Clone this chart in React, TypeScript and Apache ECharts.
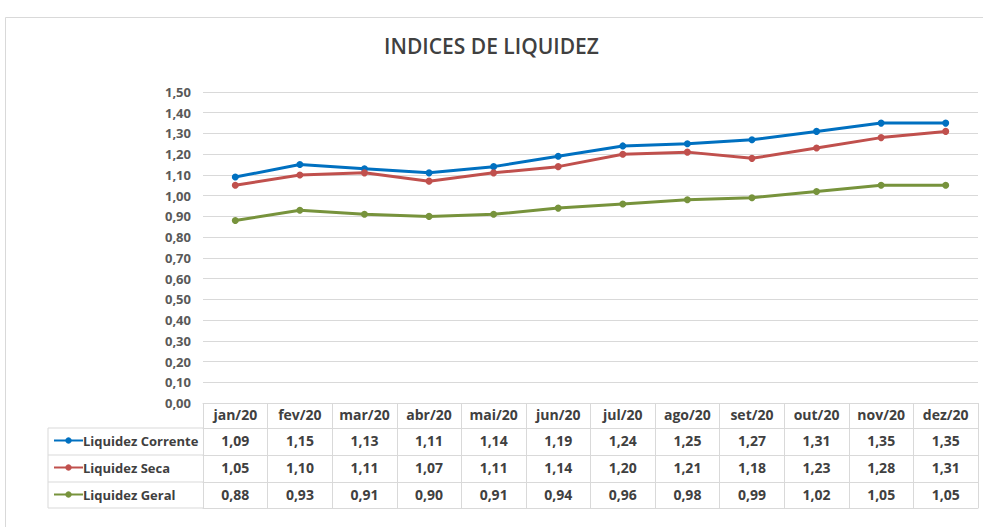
import React, { useEffect, useRef } from "react";
import * as echarts from "echarts";

const months = ["jan/20", "fev/20", "mar/20", "abr/20", "mai/20", "jun/20", "jul/20", "ago/20", "set/20", "out/20", "nov/20", "dez/20"];
const seriesNames = ["Liquidez Corrente", "Liquidez Seca", "Liquidez Geral"];
const corrente = [1.09, 1.15, 1.13, 1.11, 1.14, 1.19, 1.24, 1.25, 1.27, 1.31, 1.35, 1.35];
const seca = [1.05, 1.10, 1.11, 1.07, 1.11, 1.14, 1.20, 1.21, 1.18, 1.23, 1.28, 1.31];
const geral = [0.88, 0.93, 0.91, 0.90, 0.91, 0.94, 0.96, 0.98, 0.99, 1.02, 1.05, 1.05];
const colors = ["#0070C0", "#C0504D", "#77933C"];

const fmt = (v: number) => v.toFixed(2).replace(".", ",");

const FONT = "'Open Sans', 'Noto Sans', sans-serif";
const BORDER = "#d9d9d9";

export default function App() {
  const ref = useRef<HTMLDivElement>(null);
  useEffect(() => {
    if (!ref.current) return;
    const chart = echarts.init(ref.current, undefined, { renderer: "svg" });
    const values = [corrente, seca, geral];
    const rowOffsets = [25, 52, 79];
    const rowHeights = [27, 27, 26];

    const baseAxis = {
      type: "category" as const,
      data: months,
      position: "bottom" as const,
      boundaryGap: true,
      axisLine: { show: true, lineStyle: { color: BORDER, width: 1 } },
      splitLine: { show: false },
    };

    const xAxes: any[] = [
      {
        ...baseAxis,
        offset: 0,
        axisTick: { show: true, interval: 0, length: 25, lineStyle: { color: BORDER } },
        axisLabel: { interval: 0, margin: 4, color: "#404040", fontFamily: FONT, fontWeight: "bold", fontSize: 14 },
      },
      ...values.map((arr, k) => ({
        ...baseAxis,
        offset: rowOffsets[k],
        axisTick: { show: true, interval: 0, length: rowHeights[k], lineStyle: { color: BORDER } },
        axisLabel: {
          interval: 0,
          margin: 5,
          color: "#404040",
          fontFamily: FONT,
          fontWeight: "bold",
          fontSize: 14,
          formatter: (_v: string, i: number) => fmt(arr[i]),
        },
      })),
      {
        ...baseAxis,
        offset: 105,
        axisTick: { show: false },
        axisLabel: { show: false },
      },
    ];

    chart.setOption({
      animation: false,
      backgroundColor: "#ffffff",
      color: colors,
      title: {
        text: "INDICES DE LIQUIDEZ",
        left: "center",
        top: 30,
        textStyle: { fontFamily: FONT, fontSize: 21, fontWeight: 600, color: "#404040" },
      },
      legend: {
        orient: "vertical",
        left: 53,
        top: 432,
        padding: 0,
        itemWidth: 29,
        itemHeight: 8,
        itemGap: 10,
        data: seriesNames,
        textStyle: { fontFamily: FONT, fontWeight: "bold", fontSize: 13, lineHeight: 17, color: "#404040", padding: [0, 0, 0, -5] },
        selectedMode: false,
      },
      grid: { left: 203, right: 5, top: 92, bottom: 124 },
      xAxis: xAxes,
      yAxis: {
        type: "value",
        min: 0,
        max: 1.5,
        interval: 0.1,
        axisLine: { show: false },
        axisTick: { show: false },
        splitLine: { lineStyle: { color: BORDER, width: 1 } },
        axisLabel: { margin: 12, color: "#595959", fontFamily: FONT, fontWeight: "bold", fontSize: 13, formatter: (v: number) => fmt(v) },
      },
      graphic: [
        { type: "rect", shape: { x: 5.5, y: 17.5, width: 1000, height: 600 }, style: { fill: "none", stroke: BORDER, lineWidth: 1 }, silent: true },
        { type: "line", shape: { x1: 48, y1: 428, x2: 203, y2: 428 }, style: { stroke: BORDER, lineWidth: 1 } },
        { type: "line", shape: { x1: 48, y1: 455, x2: 203, y2: 455 }, style: { stroke: BORDER, lineWidth: 1 } },
        { type: "line", shape: { x1: 48, y1: 482, x2: 203, y2: 482 }, style: { stroke: BORDER, lineWidth: 1 } },
        { type: "line", shape: { x1: 48, y1: 508, x2: 203, y2: 508 }, style: { stroke: BORDER, lineWidth: 1 } },
        { type: "line", shape: { x1: 48, y1: 428, x2: 48, y2: 508 }, style: { stroke: BORDER, lineWidth: 1 } },
      ],
      series: values.map((arr, k) => ({
        name: seriesNames[k],
        type: "line",
        xAxisIndex: 0,
        data: arr,
        symbol: "circle",
        symbolSize: 7,
        lineStyle: { width: 3, color: colors[k] },
        itemStyle: { color: colors[k] },
      })),
    });
    return () => chart.dispose();
  }, []);
  return <div ref={ref} style={{ position: "fixed", left: 0, top: 0, width: 983, height: 527 }} />;
}
